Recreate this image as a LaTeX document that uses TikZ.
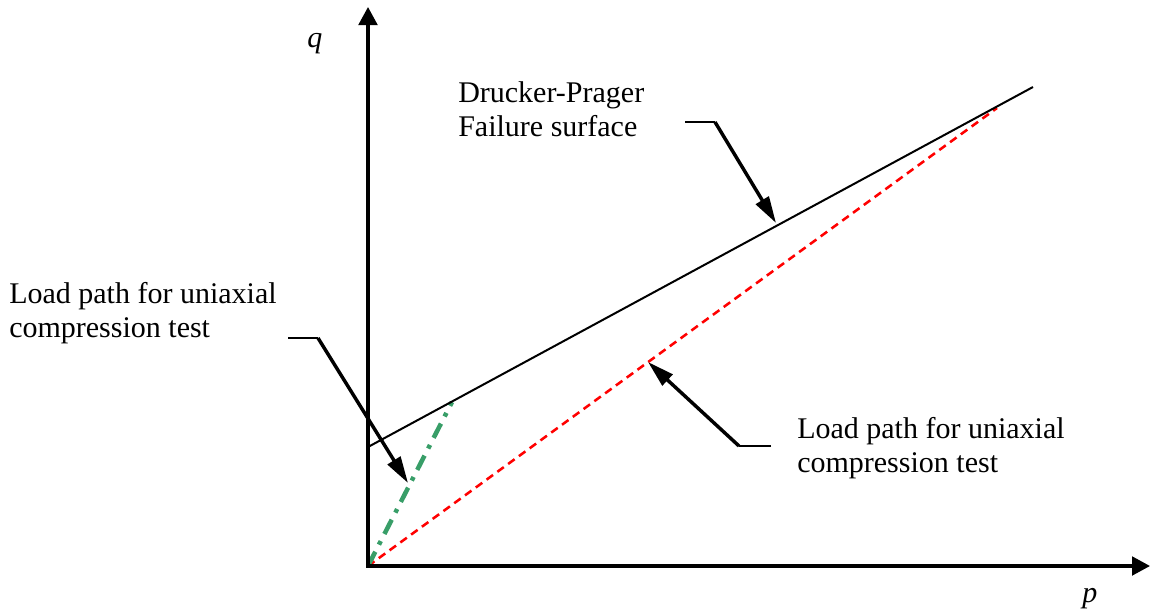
\documentclass[tikz,border=0pt]{standalone}
\usepackage{fontspec}
\setmainfont{Liberation Serif}
\usetikzlibrary{arrows.meta}
\definecolor{dpgreen}{RGB}{56,158,104}
\definecolor{dpred}{RGB}{255,0,0}
\begin{document}
\begin{tikzpicture}[x=0.75pt,y=-0.75pt,
  axis/.style={line width=2.3pt,-{Triangle[length=13.5pt,width=14pt]}},
  pointer/.style={line width=2.6pt,-{Triangle[length=20pt,width=11pt]}},
  tickline/.style={line width=0.8pt},
  surface/.style={line width=1.5pt},
  redpath/.style={line width=1.9pt,dpred,dash pattern=on 6pt off 4pt},
  greenpath/.style={line width=3.4pt,dpgreen,dash pattern=on 12pt off 6pt on 3pt off 6pt},
  lbl/.style={font=\fontsize{22.5pt}{25.5pt}\selectfont, inner sep=0pt, align=left, anchor=base west}]
\path[use as bounding box] (0,0) rectangle (1150,614);
% coordinates
\coordinate (O) at (368,566);
\coordinate (qtip) at (368,7);
\coordinate (ptip) at (1150,566);
\coordinate (dpA) at (368,447);
\coordinate (dpB) at (1033,87);
\coordinate (redB) at (997,108);
\coordinate (greenB) at (452,402);
% arrows' points
\coordinate (t1a) at (685,122);
\coordinate (t1b) at (715,122);
\coordinate (h1) at (776,223);
\coordinate (t2a) at (288,338);
\coordinate (t2b) at (318,338);
\coordinate (h2) at (408,483);
\coordinate (t3a) at (771,446);
\coordinate (t3b) at (739,446);
\coordinate (h3) at (648,362);
% load paths
\draw[redpath] (O) -- (redB);
\draw[greenpath] (O) -- (greenB);
% failure surface
\draw[surface] (dpA) -- (dpB);
% axes
\draw[axis] (O) -- (qtip);
\draw[axis] ([xshift=-1.5]O) -- (ptip);
% pointers
\draw[tickline] (t1a) -- (t1b);
\draw[pointer] (t1b) -- (h1);
\draw[tickline] (t2a) -- (t2b);
\draw[pointer] (t2b) -- (h2);
\draw[tickline] (t3a) -- (t3b);
\draw[pointer] (t3b) -- (h3);
% labels (base anchor = baseline of last line)
\node[lbl] (qlbl) at (307,47) {\textit{q}};
\node[lbl] (plbl) at (1082,602) {\textit{p}};
\node[lbl] (dplbl) at (458,136) {Drucker-Prager\\Failure surface};
\node[lbl] (leftlbl) at (9,337) {Load path for uniaxial\\compression test};
\node[lbl] (rightlbl) at (797,472) {Load path for uniaxial\\compression test};
\end{tikzpicture}
\end{document}
